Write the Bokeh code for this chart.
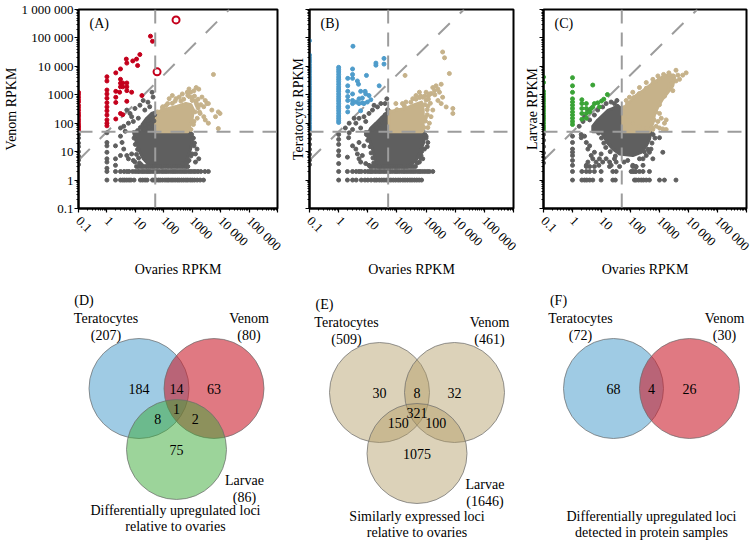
import math
from bokeh.plotting import figure
from bokeh.models import FixedTicker, Span, Label, Range1d, CustomJSTickFormatter
from bokeh.layouts import column, row
from bokeh.embed import file_html
from bokeh.resources import INLINE
from bokeh.core.properties import value

FONT = "Liberation Serif"

# ------------------------------------------------------------------ data
THRESH = 50  # RPKM cut-off (dashed lines); diagonal is y = THRESH * x

MAJOR_TICKS = [0.1, 1, 10, 100, 1000, 10000, 100000, 1000000]
MINOR_TICKS = [m * d for d in MAJOR_TICKS[:-1] for m in range(2, 10)]
Y_TICK_LABELS = ["0.1", "1", "10", "100", "1000", "10 000", "100 000", "1 000 000"]
X_TICK_LABELS = ["0.1", "1", "10", "100", "1000", "10 000", "100 000", ""]

# ---- panel A : venom vs ovaries
A_UP_X = [0.1, 0.1, 0.1, 0.1, 0.1, 0.1, 0.1, 0.1, 0.1, 0.1, 0.1, 0.1, 0.1, 0.1, 0.1, 0.1, 0.1, 0.1,
          1, 1, 1, 1, 1, 1, 1, 1, 1, 1, 1, 1,
          2.05, 2.05, 2.05, 2.05, 2.05, 3.0, 3.0, 3.0, 3.0, 3.6, 3.6, 5.0, 5.0, 5.0, 4.8, 5.0, 8.1, 11,
          14.4, 12, 34, 40, 7.4, 17, 5.0, 3.0, 3.6, 2.8]
A_UP_Y = [1220, 1020, 820, 670, 555, 427, 355, 288, 233, 194, 170, 138, 115, 95, 81, 73, 63, 55,
          4300, 3060, 1470, 1070, 760, 525, 374, 273, 194, 131, 100, 81,
          5900, 1320, 820, 537, 141, 8100, 3500, 2550, 1900, 2600, 1900, 2600, 1900, 1400, 18000, 13000, 15500, 18000,
          26000, 10700, 115000, 76000, 1230, 940, 590, 220, 200, 1230]
A_OPEN_X = [270, 58]
A_OPEN_Y = [430000, 6400]
A_GRAY_X = [5.0, 6.5, 7.4, 9.7, 14.5, 18.9, 27.8, 38.6, 42, 32, 21.5, 12.7, 8.5, 5.7, 3.9, 3.0, 4.4, 3.0,
            3.4, 3.9, 5.0, 5.7, 7.4, 8.5, 9.7, 3.0, 1, 1, 1, 1, 1, 1, 1, 2, 2, 2, 1000, 1300, 1700, 770,
            1300, 1000, 1480, 1150, 670, 0.1, 0.1, 0.1, 0.1, 0.1, 0.1, 0.1, 0.1, 20, 25, 30, 35, 45, 15,
            12, 40, 48, 28, 22, 11, 12, 10, 9, 13, 14, 16, 1100, 1200, 950, 800, 900, 600, 450]
A_GRAY_Y = [290, 220, 170, 330, 430, 630, 550, 1230, 830, 380, 290, 150, 115, 100, 78, 68, 52, 35,
            21, 12.3, 7.3, 5.6, 8.3, 4.9, 4.3, 7.3, 46, 21, 16, 9.5, 5.6, 4.3, 2.6, 16, 5.6, 3.3, 8.3, 8.3, 5.6, 4.9,
            4.3, 21, 12.3, 16, 4.3, 40, 30, 20, 15, 10, 7, 5, 3.5, 60, 80, 70, 100, 120, 70,
            55, 160, 200, 120, 90, 8, 12, 18, 30, 6, 4, 3.5, 30, 20, 40, 9, 7, 4, 3.8]
A_ROW_Y = [1, 2, 3]
A_ROW_X = [
    [1, 2, 3, 3.6, 4.2, 5, 6, 7, 9, 15, 18, 22, 26, 40, 46, 55, 65, 75, 90, 110, 130, 150, 180, 210,
     250, 300, 350, 420, 500, 600, 700, 850, 1000, 1200, 1500, 1900, 2500],
    [1, 2, 3, 4, 5, 6, 8, 10, 12, 14, 17, 20, 24, 28, 33, 40, 48, 58, 70, 85, 100, 120, 145, 175, 210,
     250, 300, 360, 430, 520, 620, 750, 900, 1100, 1300, 1600, 2000, 2800, 3700],
    [11, 13, 16, 19, 23, 27, 32, 38, 45, 55, 65, 80, 95, 115, 140, 170, 200, 240, 290, 350, 420, 500, 600, 700],
]
A_GRAY_CORE_X = [8.5, 880, 1020, 880, 690, 540, 32, 19, 13.7, 10.6]
A_GRAY_CORE_Y = [50, 50, 27, 12.3, 6.3, 3.3, 3.2, 5.6, 10.7, 23]
A_GRAY_UP_X = [17, 52, 52, 37, 25, 17]
A_GRAY_UP_Y = [50, 50, 250, 220, 150, 89]
A_TAN_CORE_X = [52, 52, 80, 150, 300, 600, 900, 1100, 1000, 800, 700]
A_TAN_CORE_Y = [50, 200, 280, 330, 400, 500, 450, 300, 150, 70, 50]
A_TAN_X = [5580, 1700, 1380, 1150, 880, 670, 2200, 2880, 3300, 3700, 2550, 4900, 8300, 9500, 6600, 8300,
           450, 350, 270, 200, 155, 1000, 1480, 1900, 2550, 2880, 3700, 1150, 137, 92, 770,
           60, 90, 200, 400, 800, 1200, 1600, 2000, 1800, 1500, 1100, 900,
           500, 700, 1300, 1600, 250, 120, 1400, 1250, 1000]
A_TAN_Y = [5190, 1580, 1800, 1380, 1230, 1230, 830, 630, 490, 490, 380, 290, 250, 220, 170, 65,
           1070, 830, 730, 940, 730, 630, 430, 220, 170, 130, 100, 115, 490, 380, 1600,
           250, 350, 500, 600, 850, 900, 700, 450, 250, 150, 90, 60,
           700, 950, 600, 350, 600, 420, 500, 250, 800]

# ---- panel B : teratocytes vs ovaries
B_UP_X = [0.1] * 33 + [1] * 24 + [
    2.05, 2.05, 2.05, 2.05, 2.05, 2.05, 2.05, 3.0, 3.0, 3.0, 3.0, 3.0, 3.0, 4.4, 4.8, 5.7, 5.0, 4.0, 5.0,
    6.5, 5.7, 8.1, 8.5, 11, 12.7, 9.7, 7.4, 6.5, 24.6, 9, 19, 19, 36, 36, 3.1]
B_UP_Y = [80000, 25000, 20300, 16900, 14100, 11400, 9240, 7690, 6400, 5190, 4200, 3490, 2900, 2350,
          1910, 1590, 1320, 1070, 870, 720, 600, 490, 395, 330, 273, 221, 179, 149, 124, 100, 81, 68, 56,
          9240, 7690, 6400, 5190, 4200, 3490, 2900, 2350, 1910, 1590, 1320, 1070, 870, 720, 600, 490,
          395, 330, 273, 221, 179, 149, 124, 106,
          3780, 2070, 1320, 870, 630, 374, 250, 8100, 5190, 3780, 1070, 630, 490, 3060, 2350, 1320, 720,
          555, 490, 520, 273, 1320, 1070, 940, 670, 555, 490, 770, 2070, 4800, 13000, 11000, 19000,
          12000, 51000]
B_GRAY_X = [1, 1, 1, 1, 1, 1, 2.3, 2.2, 3.0, 3.9, 5.0, 5.7, 7.4, 8.5, 11, 14.5, 16.4, 21.5, 28, 39, 45,
            5.0, 3.9, 4.4, 5.0, 5.7, 6.5, 7.4, 8.5, 3.0, 2.0, 11, 880, 1150, 1000, 770, 590, 670, 2.3,
            1.7, 3.4, 0.1, 0.1, 0.1, 0.1, 0.1, 0.1, 0.1, 20, 25, 30, 40, 15, 48,
            9, 10, 12, 13, 15, 16, 900, 1000, 1100, 700, 650, 500]
B_GRAY_Y = [40, 27, 18, 10.7, 7.3, 3.8, 46, 31, 60, 100, 149, 68, 170, 115, 221, 290, 427, 374, 490, 490, 720,
            21, 12.3, 8.3, 5.6, 4.3, 7.3, 16, 3.8, 16, 6.4, 3.3, 12.3, 21, 35, 5.6, 4.3, 7.3, 100,
            68, 149, 40, 28, 18, 12, 8, 5, 3.5, 70, 90, 130, 200, 60, 300,
            40, 25, 15, 9, 6, 4, 40, 30, 15, 10, 6, 4]
B_ROW_Y = [1, 2, 3]
B_ROW_X = [
    [1, 2, 3, 4, 6, 8, 10, 13, 17, 20, 25, 30, 36, 43, 52, 62, 75, 90, 110, 130, 160, 190, 230, 280,
     330, 400, 480, 580, 700],
    [1, 2, 3, 4, 5, 6, 8, 10, 12, 14, 17, 20, 24, 28, 34, 40, 48, 58, 70, 85, 100, 120, 145, 175, 210,
     250, 300, 360, 430, 520, 620, 750, 900, 1100, 1300, 1700],
    [12, 14, 17, 20, 24, 28, 34, 40, 48, 58, 70, 85, 100, 120, 145, 175, 210, 250, 300, 360, 430],
]
B_GRAY_CORE_X = [8.1, 880, 830, 590, 450, 235, 21.5, 17.9, 14.5, 11.1]
B_GRAY_CORE_Y = [50, 50, 21, 8.3, 4.9, 2.9, 2.9, 5.6, 12.3, 27]
B_GRAY_UP_X = [11, 54, 54, 42, 28, 19, 12.7]
B_GRAY_UP_Y = [50, 50, 290, 220, 150, 100, 68]
B_TAN_CORE_X = [54, 54, 100, 200, 400, 700, 800, 800, 770]
B_TAN_CORE_Y = [50, 250, 290, 330, 450, 550, 300, 100, 50]
B_TAN_X = [3700, 4300, 6300, 190, 8300, 8300, 1700, 1950, 2200, 2550, 2880, 3300, 1300, 1000, 770, 590,
           450, 350, 204, 155, 92, 2550, 3300, 3700, 4900, 1700, 1480, 1300, 1150,
           60, 100, 180, 300, 450, 650, 900, 1200, 1150, 1100, 950, 850,
           1000, 1200, 1400, 900, 600, 1500, 2000, 1100, 950]
B_TAN_Y = [32000, 20000, 5600, 4800, 330, 220, 1800, 1400, 2070, 1590, 1230, 2350, 1070, 1230, 820, 1230,
           940, 730, 555, 490, 490, 630, 490, 820, 374, 290, 170, 100, 70,
           250, 300, 400, 550, 700, 900, 900, 700, 400, 200, 120, 70,
           650, 900, 500, 450, 800, 1100, 1000, 300, 160]

# ---- panel C : larvae vs ovaries
C_UP_X = [0.1] * 19 + [1] * 12 + [
    5.0, 2.1, 2.1, 2.1, 2.1, 2.1, 3.0, 3.0, 3.0, 3.0, 3.9, 4.4, 5.7, 7.4, 8.5, 16, 5.0, 12, 10]
C_UP_Y = [4200, 2700, 1320, 1070, 870, 720, 600, 490, 395, 330, 273, 221, 179, 149, 124, 100, 81, 68, 56,
          4000, 2070, 1220, 720, 555, 430, 330, 250, 194, 149, 115, 90,
          2200, 670, 490, 330, 221, 138, 490, 330, 221, 149, 250, 330, 490, 520, 374, 1020, 374, 700, 600]
C_GRAY_X = [2.3, 2.6, 3.4, 3.9, 5.7, 7.4, 11, 14.5, 21.5, 28, 34, 1.7, 2.0, 2.0, 2.6, 3.0, 3.4, 3.9, 4.4,
            5.0, 5.7, 6.5, 8.1, 8.5, 9.7, 11, 14.5, 19, 21.5, 3.4, 3.0, 1, 1, 1, 1, 1, 1, 1, 28, 32, 60,
            80, 120, 155, 204, 270, 350, 450, 510, 1000, 1300, 590, 270, 0.1, 0.1, 0.1, 0.1, 0.1, 0.1,
            8, 10, 12, 14, 20, 30, 600, 700, 550, 400, 300]
C_GRAY_Y = [115, 170, 290, 131, 194, 290, 374, 490, 555, 490, 630, 78, 40, 31, 35, 21, 12.3, 16, 7.3,
            5.6, 9.5, 4.3, 3.3, 5.6, 8.3, 4.3, 5.6, 4.3, 3.3, 4.3, 3.3, 35, 21, 12.3, 9.5, 7.3, 4.9, 3.3, 5.6, 4.3, 4.3,
            4.9, 3.3, 2.9, 5.6, 5.6, 7.3, 9.5, 12.3, 31, 9.5, 5.6, 3.3, 40, 25, 15, 9, 6, 4,
            45, 30, 20, 14, 10, 7, 40, 30, 20, 12, 10]
C_ROW_Y = [1, 2, 3]
C_ROW_X = [
    [1, 2.1, 2.6, 3.1, 3.9, 5, 9.7, 24.6, 30, 137, 155, 190, 235, 280, 350, 450, 1000, 1480, 3700],
    [1, 2.1, 3, 3.9, 5.7, 9.7, 24.6, 32, 105, 120, 137, 155, 204, 270, 450],
    [3, 3.9, 5.7, 18.9, 42, 120, 155],
]
C_GRAY_CORE_X = [9.7, 510, 450, 350, 235, 120, 42, 24.6, 15.6, 12]
C_GRAY_CORE_Y = [50, 50, 27, 16, 9.5, 7.3, 8.3, 12.3, 21, 35]
C_GRAY_UP_X = [5.0, 54, 54, 36, 24.6, 17, 11, 7.4, 5]
C_GRAY_UP_Y = [50, 50, 290, 427, 330, 290, 190, 130, 78]
C_TAN_CORE_X = [54, 54, 71, 105, 155, 270, 450, 770, 1150, 1700, 2550, 3300, 2880, 1950, 1300, 880, 670, 590, 450]
C_TAN_CORE_Y = [50, 290, 427, 630, 940, 1400, 2070, 3060, 4000, 4800, 4950, 4000, 2070, 1230, 720, 374, 194, 100, 50]
C_TAN_X = [3700, 8300, 6300, 4300, 3700, 4900, 2880, 2200, 1000, 880, 770, 1000, 1300, 1700, 1480, 1150, 1700,
           71, 92, 120, 204, 350, 590, 880, 1380, 2100, 2880, 80, 120, 204, 350, 590,
           60, 80, 130, 200, 350, 600, 1000, 1500, 2200, 3000, 2600, 2000, 1500, 1000, 750, 650, 550]
C_TAN_Y = [7300, 5900, 4900, 4900, 3060, 3490, 1400, 2070, 221, 115, 78, 68, 63, 60, 100, 149, 131,
           630, 820, 1230, 1800, 2700, 3490, 4600, 5200, 5900, 4600, 170, 100, 78, 68, 60,
           350, 500, 800, 1100, 1700, 2600, 3600, 4500, 5000, 4500, 2500, 1500, 900, 450, 250, 130, 70]

# ---- Venn counts
VENN_D_SETS = ["Teratocytes", "Venom", "Larvae"]
VENN_D_TOTALS = [207, 80, 86]
VENN_D_COUNTS = {"T": 184, "V": 63, "L": 75, "TV": 14, "TL": 8, "VL": 2, "TVL": 1}
VENN_E_SETS = ["Teratocytes", "Venom", "Larvae"]
VENN_E_TOTALS = [509, 461, 1646]
VENN_E_COUNTS = {"T": 30, "V": 32, "L": 1075, "TV": 8, "TL": 150, "VL": 100, "TVL": 321}
VENN_F_SETS = ["Teratocytes", "Venom"]
VENN_F_TOTALS = [72, 30]
VENN_F_COUNTS = {"T": 68, "V": 26, "TV": 4}
VENN_CAPTIONS = [["Differentially upregulated loci", "relative to ovaries"],
                 ["Similarly expressed loci", "relative to ovaries"],
                 ["Differentially upregulated loci", "detected in protein samples"]]

# ------------------------------------------------------------------ styles
GRAY = "#5f5f5f"
TAN = "#c6b28a"
RED = "#c4001c"
BLUE = "#4e9ccb"
GREEN = "#3aa336"
DASH = "#9c9c9c"

EMPTY_FMT_CODE = "return '';"
LABEL_FMT_CODE = ("const i = Math.round(Math.log10(tick)) + 1; const s = labels[i]; "
                  "return (s === undefined) ? '' : s;")

TOP_H = 279
FRAME_TOP = 9
FRAME_BOTTOM_BORDER = 66


def scatter_panel(letter, ylabel, up_x, up_y, up_color, gray_polys, gray_x, gray_y,
                  row_y, row_x, tan_poly, tan_x, tan_y, width, left, right,
                  show_ylabels, ylabel_standoff, open_x=None, open_y=None):
    p = figure(width=width, height=TOP_H, x_axis_type="log", y_axis_type="log",
               x_range=Range1d(0.1, 1e6), y_range=Range1d(0.1, 1e6),
               output_backend="svg", toolbar_location=None,
               min_border_left=left, min_border_right=right,
               min_border_top=FRAME_TOP, min_border_bottom=FRAME_BOTTOM_BORDER)
    p.grid.visible = False
    p.background_fill_color = "white"
    p.border_fill_color = "white"
    p.outline_line_color = "black"
    p.outline_line_width = 2
    p.outline_line_alpha = 1.0

    for ax in (p.xaxis[0], p.yaxis[0]):
        ax.ticker = FixedTicker(ticks=MAJOR_TICKS, minor_ticks=MINOR_TICKS)
        ax.axis_line_color = "black"
        ax.axis_line_width = 2
        ax.major_tick_in = 0
        ax.major_tick_out = 4
        ax.minor_tick_in = 0
        ax.minor_tick_out = 2
        ax.major_tick_line_color = "black"
        ax.minor_tick_line_color = "black"
        ax.major_tick_line_width = 1.2
        ax.axis_label_text_font = FONT
        ax.axis_label_text_font_size = "14px"
        ax.axis_label_text_font_style = "normal"
        ax.axis_label_text_color = "black"
        ax.major_label_text_font = FONT
        ax.major_label_text_color = "black"

    xa = p.xaxis[0]
    xa.axis_label = "Ovaries RPKM"
    xa.formatter = CustomJSTickFormatter(args=dict(labels=X_TICK_LABELS), code=LABEL_FMT_CODE)
    xa.major_label_text_font_size = "13px"
    xa.major_label_orientation = -math.pi / 4
    xa.major_label_standoff = 6
    xa.axis_label_standoff = 0

    ya = p.yaxis[0]
    ya.axis_label = ylabel
    if show_ylabels:
        ya.formatter = CustomJSTickFormatter(args=dict(labels=Y_TICK_LABELS), code=LABEL_FMT_CODE)
        ya.major_label_text_font_size = "13px"
        ya.major_label_standoff = 1
    else:
        ya.formatter = CustomJSTickFormatter(code=EMPTY_FMT_CODE)
        ya.major_label_text_font_size = "1px"
        ya.major_label_standoff = 0
    ya.axis_label_standoff = ylabel_standoff

    # dense clouds
    for px, py in gray_polys:
        p.patch(px, py, fill_color=GRAY, line_color=GRAY, line_width=3, line_join="round")
    p.patch(tan_poly[0], tan_poly[1], fill_color=TAN, line_color=TAN, line_width=3, line_join="round")

    # diagonal y = THRESH * x
    p.line([0.1, 1e6 / THRESH], [0.1 * THRESH, 1e6], line_color=DASH, line_width=2, line_dash="16 14")

    # individual points
    for yv, xs in zip(row_y, row_x):
        p.scatter(xs, [yv] * len(xs), size=4, color=GRAY, marker="circle")
    p.scatter(gray_x, gray_y, size=4, color=GRAY, marker="circle")
    p.scatter(tan_x, tan_y, size=4, color=TAN, marker="circle")
    p.scatter(up_x, up_y, size=4, color=up_color, marker="circle")
    if open_x:
        p.scatter(open_x, open_y, size=7, marker="circle", line_color=up_color, line_width=2,
                  fill_color="white")

    p.add_layout(Span(location=THRESH, dimension="height", line_color=DASH, line_width=2,
                      line_dash="14 9"))
    p.add_layout(Span(location=THRESH, dimension="width", line_color=DASH, line_width=2,
                      line_dash="14 9"))

    p.add_layout(Label(x=0.1, y=1e6, x_offset=11, y_offset=-6, text=letter, text_baseline="top",
                       text_font=FONT, text_font_size="14px", text_color="black"))
    return p


pA = scatter_panel("(A)", "Venom RPKM", A_UP_X, A_UP_Y, RED,
                   [(A_GRAY_CORE_X, A_GRAY_CORE_Y), (A_GRAY_UP_X, A_GRAY_UP_Y)],
                   A_GRAY_X, A_GRAY_Y, A_ROW_Y, A_ROW_X, (A_TAN_CORE_X, A_TAN_CORE_Y),
                   A_TAN_X, A_TAN_Y, 285, 74, 8, True, 0, A_OPEN_X, A_OPEN_Y)
pB = scatter_panel("(B)", "Teratocyte RPKM", B_UP_X, B_UP_Y, BLUE,
                   [(B_GRAY_CORE_X, B_GRAY_CORE_Y), (B_GRAY_UP_X, B_GRAY_UP_Y)],
                   B_GRAY_X, B_GRAY_Y, B_ROW_Y, B_ROW_X, (B_TAN_CORE_X, B_TAN_CORE_Y),
                   B_TAN_X, B_TAN_Y, 236, 24, 8, False, 0)
pC = scatter_panel("(C)", "Larvae RPKM", C_UP_X, C_UP_Y, GREEN,
                   [(C_GRAY_CORE_X, C_GRAY_CORE_Y), (C_GRAY_UP_X, C_GRAY_UP_Y)],
                   C_GRAY_X, C_GRAY_Y, C_ROW_Y, C_ROW_X, (C_TAN_CORE_X, C_TAN_CORE_Y),
                   C_TAN_X, C_TAN_Y, 235, 22, 10, False, 0)

# ------------------------------------------------------------------ Venn row
BOT_H = 543 - TOP_H
pv = figure(width=756, height=BOT_H, x_range=Range1d(0, 756), y_range=Range1d(543, TOP_H),
            output_backend="svg", toolbar_location=None, x_axis_location=None,
            y_axis_location=None, min_border=0)
pv.grid.visible = False
pv.outline_line_color = None

R = 50
PANEL_CX = [176, 416.5, 651]
PANEL_TOP_Y = [388, 392, 388]
CAPTION_Y = [510, 516, 516]
LETTERS = ["(D)", "(E)", "(F)"]
OFFS3 = {"T": (-37.5, 0), "V": (37.5, 0), "L": (0, 61)}
OFFS2 = {"T": (-38, 0), "V": (38, 0)}
NAME_OFFS = {"T": (-33, -70), "V": (35, -70), "L": (68, 31)}

venn_specs = [
    (VENN_D_SETS, VENN_D_TOTALS, VENN_D_COUNTS, OFFS3,
     [("#3f97c9", 0.5), ("#cc1f2f", 0.6), ("#3aa935", 0.5)]),
    (VENN_E_SETS, VENN_E_TOTALS, VENN_E_COUNTS, OFFS3,
     [("#b29b64", 0.45), ("#b29b64", 0.45), ("#b29b64", 0.45)]),
    (VENN_F_SETS, VENN_F_TOTALS, VENN_F_COUNTS, OFFS2,
     [("#3f97c9", 0.5), ("#cc1f2f", 0.6)]),
]

tx, ty, tt = [], [], []
for i, (sets, totals, counts, offs, fills) in enumerate(venn_specs):
    keys = list(offs.keys())
    centers = {k: (PANEL_CX[i] + offs[k][0], PANEL_TOP_Y[i] + offs[k][1]) for k in keys}
    for k, (fc, fa) in zip(keys, fills):
        cx, cy = centers[k]
        pv.circle(x=[cx], y=[cy], radius=R, fill_color=fc, fill_alpha=fa,
                  line_color="#6b6b6b", line_width=0.8, line_alpha=0.9)
    for region, n in counts.items():
        xs = [centers[k][0] for k in region]
        ys = [centers[k][1] for k in region]
        tx.append(sum(xs) / len(xs))
        ty.append(sum(ys) / len(ys))
        tt.append(str(n))
    for k, name, tot in zip(keys, sets, totals):
        cx, cy = centers[k]
        dx, dy = NAME_OFFS[k]
        tx += [cx + dx, cx + dx]
        ty += [cy + dy, cy + dy + 17]
        tt += [name, "(%d)" % tot]
    tcx, tcy = centers["T"]
    tx.append(tcx - 55)
    ty.append(tcy - 88)
    tt.append(LETTERS[i])
    cap_x = PANEL_CX[i] - (1 if i == 0 else 0)
    for j, line in enumerate(VENN_CAPTIONS[i]):
        tx.append(cap_x)
        ty.append(CAPTION_Y[i] + 16 * j)
        tt.append(line)

pv.text(x=tx, y=ty, text=tt, text_font=value(FONT), text_font_size=value("14px"),
        text_align="center", text_baseline="middle", text_color="black")

layout = column(row(pA, pB, pC), pv)

with open("out.html", "w") as f:
    f.write(file_html(layout, INLINE))
